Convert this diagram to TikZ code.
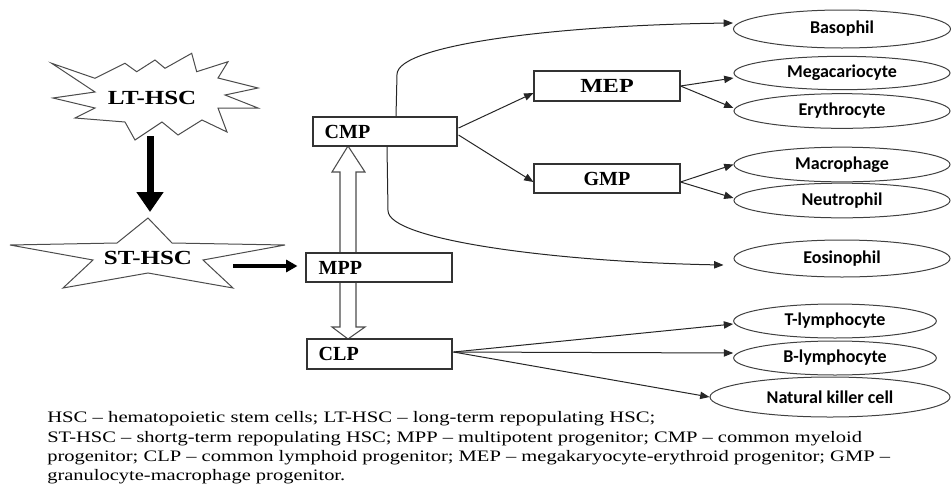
\documentclass[tikz,border=0pt]{standalone}
\usepackage{fontspec}
\usepackage{graphicx}
\setmainfont{Liberation Serif}
\newfontfamily\calfont{Carlito}
\usetikzlibrary{arrows.meta,calc,shapes.geometric}
\begin{document}
\begin{tikzpicture}[x=0.75pt,y=-0.75pt,
 box/.style={draw=black!80,line width=0.8pt,minimum width=109pt,minimum height=22pt,inner sep=0},
 boxtxt/.style={font=\fontsize{15}{18}\selectfont\bfseries,anchor=west,inner sep=0},
 cell/.style={ellipse,draw=black!75,line width=0.75pt,inner sep=0,minimum width=162pt,minimum height=26pt,font=\calfont\fontsize{13.5}{16}\selectfont\bfseries},
 conn/.style={draw=black!85,line width=0.75pt,-{Triangle[length=7pt,width=5.5pt]}},
 hollow/.style={draw=black!70,fill=white,line width=0.8pt,line join=miter},
 starshape/.style={draw=black!70,fill=white,line width=0.75pt,line join=miter},
 startxt/.style={font=\fontsize{15}{18}\selectfont\bfseries,inner sep=0},
 captxt/.style={font=\fontsize{12}{14}\selectfont,anchor=base west,inner sep=0}]
\useasboundingbox (0,0) rectangle (951,483);

% LT-HSC starburst
\draw[starshape] (51.7,63.3) -- (95,78.3) -- (125,63.3) -- (136.7,71.7) -- (155,60) -- (165,68.3)
 -- (191.7,53.3) -- (196.7,71.7) -- (228,61.7) -- (218,78) -- (258,88) -- (225,95) -- (258,108)
 -- (218,108) -- (227,132) -- (202,120) -- (178,135) -- (162,122) -- (135,140) -- (125,122)
 -- (75,118) -- (95,108) -- (53,98) -- (95,92) -- cycle;
\node[startxt] (lt) at (152,98) {\scalebox{1.25}[1]{LT-HSC}};

% ST-HSC star
\draw[starshape] (148,218) -- (172,243) -- (285,245) -- (203,260) -- (233,288) -- (148,273)
 -- (63,288) -- (93,260) -- (10,245) -- (117,243) -- cycle;
\node[startxt] (st) at (148,258) {\scalebox{1.25}[1]{ST-HSC}};

\coordinate (ltb) at (150,136);
\coordinate (stt) at (150,212);
\draw[black,line width=5.25pt,-{Triangle[length=15pt,width=19.5pt]}] (ltb) -- (stt);

% hollow arrows
\draw[hollow] (348,146) -- (365,172) -- (356,172) -- (356,253) -- (340,253) -- (340,172) -- (332,172) -- cycle;
\draw[hollow] (340,282) -- (356,282) -- (356,327) -- (365,327) -- (348,339) -- (332,327) -- (340,327) -- cycle;

% boxes
\node[box,minimum width=108pt,minimum height=21.75pt] (cmp) at (385,131.5) {};
\node[boxtxt] at ($(cmp.west)+(12,0)$) {CMP};
\node[box,minimum width=109.5pt,minimum height=21.75pt] (mpp) at (379,267.5) {};
\node[boxtxt] at ($(mpp.west)+(13,0)$) {MPP};
\node[box,minimum width=108.75pt,minimum height=22.5pt] (clp) at (379.5,354) {};
\node[boxtxt] at ($(clp.west)+(12,0)$) {CLP};
\node[box,minimum width=109.5pt,minimum height=22.5pt,font=\fontsize{15}{18}\selectfont\bfseries] (mep) at (607,86) {\scalebox{1.2}[1]{MEP}};
\node[box,minimum width=109.5pt,minimum height=21.75pt,font=\fontsize{15}{18}\selectfont\bfseries] (gmp) at (607,178.5) {GMP};

\coordinate (sth) at (233,266);
\draw[black,line width=3pt,-{Triangle[length=8.5pt,width=9pt]}] (sth) -- ($(mpp.west)+(-8,-1.5)$);

% cells
\node[cell,minimum width=162.75pt,minimum height=28.5pt] (baso) at (842,29) {Basophil};
\node[cell,minimum width=162pt,minimum height=25pt] (mega) at (842,73) {Megacariocyte};
\node[cell,minimum width=162pt,minimum height=26pt] (ery) at (842,111) {Erythrocyte};
\node[cell,minimum width=162pt,minimum height=26pt] (macro) at (842,164.5) {Macrophage};
\node[cell,minimum width=162pt,minimum height=26pt] (neu) at (842,200.5) {Neutrophil};
\node[cell,minimum width=162pt,minimum height=27.75pt] (eos) at (842,258.5) {Eosinophil};
\node[cell,minimum width=152pt,minimum height=25.5pt] (tly) at (835,321) {T-lymphocyte};
\node[cell,minimum width=152pt,minimum height=25.5pt] (bly) at (835,358) {B-lymphocyte};
\node[cell,minimum width=180pt,minimum height=30pt] (nk) at (830,397) {Natural killer cell};

% connectors
\draw[conn] ($(cmp.east)+(1,-3.5)$) -- ($(mep.west)+(0,7)$);
\draw[conn] ($(cmp.east)+(1,3.5)$) -- ($(gmp.west)+(0,3.5)$);
\draw[conn] (mep.east) -- ($(mega.west)+(0,5)$);
\draw[conn] (mep.east) -- ($(ery.west)+(0,-3)$);
\draw[conn] ($(gmp.east)+(0,3.5)$) -- (macro.west);
\draw[conn] ($(gmp.east)+(0,3.5)$) -- ($(neu.west)+(0,-2.5)$);
\draw[conn] ($(cmp.north)+(11,0)$) -- ++(1,-42) .. controls +(0,-30) and (560,25) .. ($(baso.west)+(0,-6)$);
\draw[conn] ($(cmp.south)+(2,0)$) -- ++(1,64) .. controls +(0,30) and (560,262) .. ($(eos.west)+(-10,6.5)$);
\draw[conn] ($(clp.east)+(1,-2)$) -- ($(tly.west)+(0,3)$);
\draw[conn] ($(clp.east)+(1,-2)$) -- ($(bly.west)+(0,-5)$);
\draw[conn] ($(clp.east)+(1,-2)$) -- (nk.west);

% caption
\node[captxt] (c1) at (47,422) {\resizebox{456pt}{\height}{HSC – hematopoietic stem cells; LT-HSC – long-term repopulating HSC;}};
\node[captxt] (c2) at (47,442) {\resizebox{611pt}{\height}{ST-HSC – shortg-term repopulating HSC; MPP – multipotent progenitor; CMP – common myeloid}};
\node[captxt] (c3) at (47,461.5) {\resizebox{632pt}{\height}{progenitor; CLP – common lymphoid progenitor; MEP – megakaryocyte-erythroid progenitor; GMP –}};
\node[captxt] (c4) at (47,480.5) {\resizebox{223.5pt}{\height}{granulocyte-macrophage progenitor.}};
\end{tikzpicture}
\end{document}
